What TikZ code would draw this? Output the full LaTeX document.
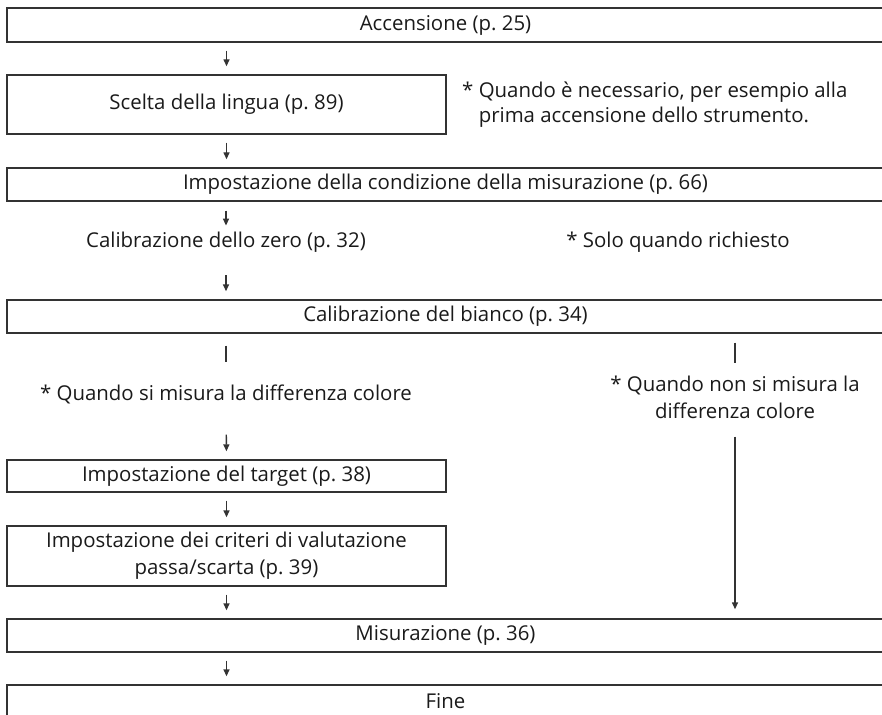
\documentclass[tikz,border=0pt]{standalone}
\usepackage{fontspec}
\setmainfont{Open Sans}
\usetikzlibrary{arrows.meta,positioning}
\definecolor{ink}{HTML}{333333}
\definecolor{txt}{HTML}{1A1A1A}
\newcommand{\flowfont}{\fontsize{20.4}{27}\selectfont}

\tikzset{
  box/.style={draw=ink, line width=1.4pt, rectangle, inner sep=0pt, minimum height=33pt, text=txt, font=\flowfont, align=center},
  wide/.style={box, minimum width=877pt},
  half/.style={box, minimum width=439pt},
  note/.style={text=txt, font=\flowfont, inner sep=0pt},
  flow/.style={draw=ink, line width=1.4pt, -{Triangle[length=7pt,width=6pt]}, shorten <=8pt, shorten >=8pt},
  stub/.style={draw=ink, line width=1.4pt}
}

\begin{document}
\begin{tikzpicture}[x=1pt,y=-1pt]
  \useasboundingbox (0,0) rectangle (882,714);

  % main steps
  \node[wide, minimum height=34pt] (accensione) at (445.5,25) {Accensione (p.~25)};
  \node[half, minimum height=59pt] (lingua) at (226.5,104.5) {Scelta della lingua (p.~89)};
  \node[note, anchor=north west, align=left, font=\fontsize{20.4}{25}\selectfont] (primavolta) at (462,81.5)
    {* Quando è necessario, per esempio alla\\\hphantom{* }prima accensione dello strumento.};
  \node[wide] (condizione) at (445.5,184.5) {Impostazione della condizione della misurazione (p.~66)};
  \node[note] (zero) at (226,242) {Calibrazione dello zero (p.~32)};
  \node[note] (solo) at (678,242) {* Solo quando richiesto};
  \node[wide] (bianco) at (445.5,316.5) {Calibrazione del bianco (p.~34)};

  % branches
  \node[note] (misura) at (226,394) {* Quando si misura la differenza colore};
  \node[note, align=center] (nonmisura) at (735,397) {* Quando non si misura la\\differenza colore};
  \node[half, minimum height=32pt] (target) at (226.5,476) {Impostazione del target (p.~38)};
  \node[half, minimum height=60pt] (criteri) at (226.5,556) {Impostazione dei criteri di valutazione\\passa/scarta (p.~39)};
  \node[wide] (misurazione) at (445.5,635.5) {Misurazione (p.~36)};
  \node[wide] (fine) at (445.5,701.5) {Fine};

  % connectors
  \draw[flow] (lingua.north |- accensione.south) -- (lingua.north);
  \draw[flow] (lingua.south) -- (lingua.south |- condizione.north);
  \draw[flow, shorten <=9pt, shorten >=6pt] (zero.north |- condizione.south) -- (zero.north);
  \draw[flow, shorten <=23pt] (zero.south) -- (zero.south |- bianco.north);
  \draw[stub, shorten <=12pt, shorten >=22pt] (misura.north |- bianco.south) -- (misura.north);
  \draw[stub, shorten <=9pt, shorten >=12pt] (nonmisura.north |- bianco.south) -- (nonmisura.north);
  \draw[flow, shorten <=31pt] (misura.south) -- (target.north);
  \draw[flow] (target.south) -- (criteri.north);
  \draw[flow] (criteri.south) -- (criteri.south |- misurazione.north);
  \draw[flow, shorten <=18pt, shorten >=9pt] (nonmisura.south) -- (nonmisura.south |- misurazione.north);
  \draw[flow] (criteri.south |- misurazione.south) -- (criteri.south |- fine.north);
\end{tikzpicture}
\end{document}
